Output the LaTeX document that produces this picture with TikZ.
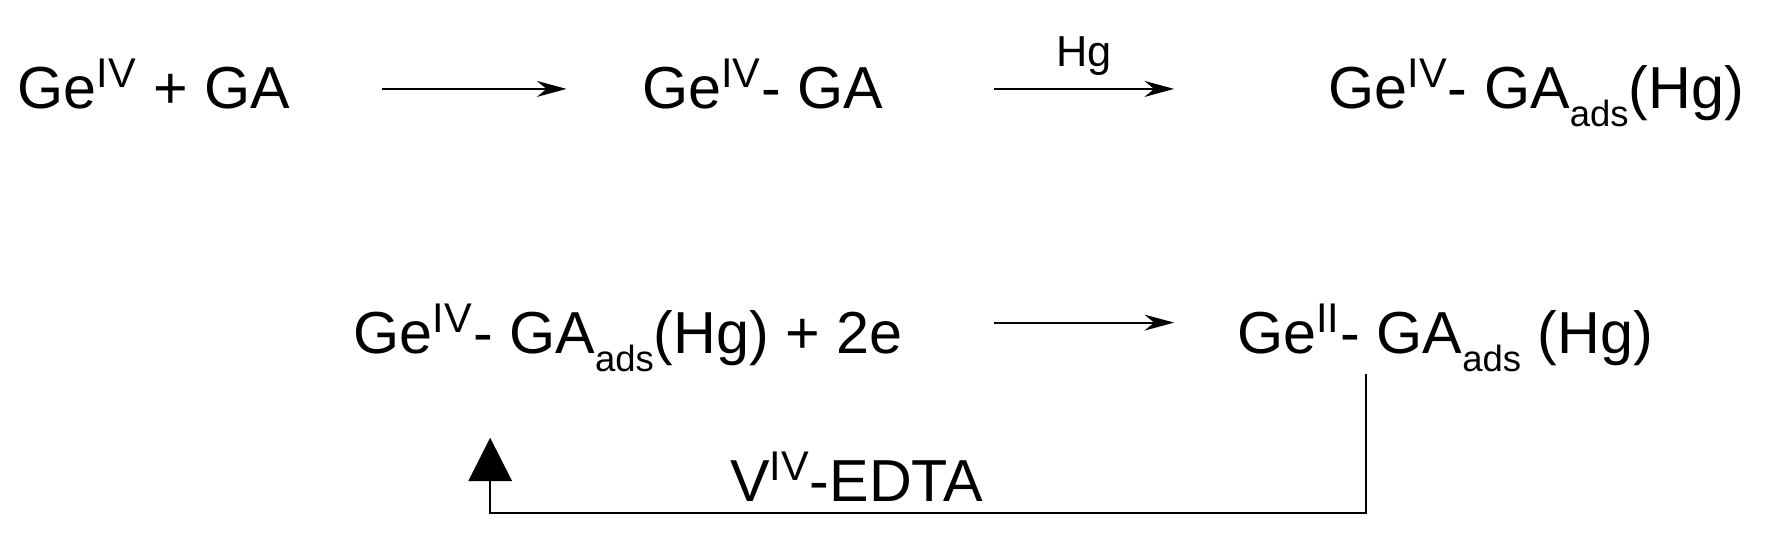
\documentclass[tikz,border=0pt]{standalone}
\usepackage{fontspec}
\setmainfont{Liberation Sans}
\usetikzlibrary{arrows.meta}
\begin{document}
\begin{tikzpicture}[x=0.5pt,y=-0.5pt,
  chem/.style={anchor=base west,inner sep=0pt,font=\fontsize{26}{30}\selectfont},
  rxn/.style={line width=0.8pt,-{Stealth[length=13pt,width=7pt]}},
  loopline/.style={line width=1pt,-{Triangle[length=19pt,width=19pt]}}]
\useasboundingbox (0,0) rectangle (1565,478);
\newcommand{\sps}[1]{\textsuperscript{#1}}
\newcommand{\sbs}[1]{\raisebox{-0.3em}{\fontsize{16}{18}\selectfont #1}}
\node[chem] (a) at (15,95) {Ge\sps{IV} + GA};
\node[chem] (b) at (563,95) {Ge\sps{IV}- GA};
\node[chem] (c) at (1165,95) {Ge\sps{IV}- GA\sbs{ads}(Hg)};
\node[chem] (d) at (310,310) {Ge\sps{IV}- GA\sbs{ads}(Hg) + 2e};
\node[chem] (e) at (1085,310) {Ge\sps{II}- GA\sbs{ads} (Hg)};
\coordinate (a1) at (335,78); \coordinate (a2) at (497,78);
\coordinate (b1) at (872,78); \coordinate (b2) at (1030,78);
\coordinate (c1) at (872,283); \coordinate (c2) at (1030,283);
\draw[rxn] (a1) -- (a2);
\draw[rxn] (b1) -- node[above=2pt,font=\fontsize{19}{22}\selectfont] (hg) {Hg} (b2);
\draw[rxn] (c1) -- (c2);
\coordinate (l1) at (1198,328); \coordinate (l2) at (1198,450);
\coordinate (l3) at (430,450); \coordinate (l4) at (430,384);
\draw[loopline] (l1) -- (l2) -- (l3) -- (l4);
\node[chem] (v) at (640,440) {V\sps{IV}-EDTA};
\end{tikzpicture}
\end{document}
